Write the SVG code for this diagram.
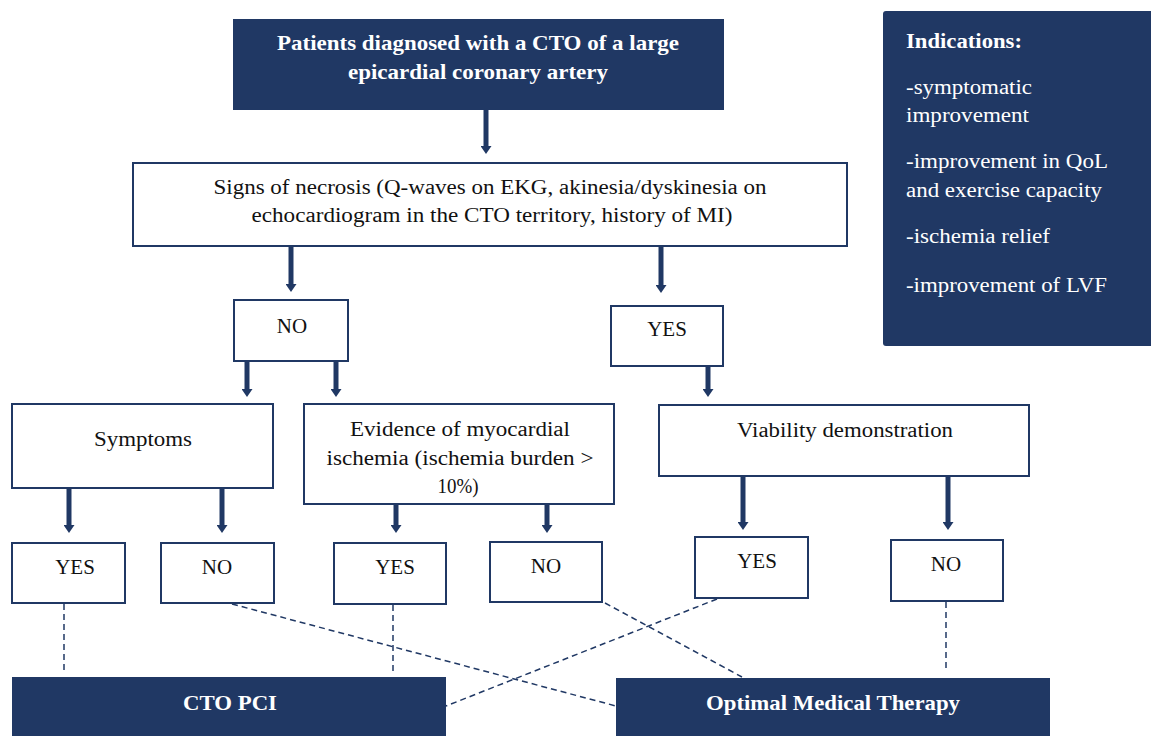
<svg xmlns="http://www.w3.org/2000/svg" width="1151" height="736" viewBox="0 0 1151 736">
<style>
.dark{fill:#203864;}
.box{fill:#fff;stroke:#203864;stroke-width:2;}
.t{font-family:'Liberation Serif','DejaVu Serif',serif;font-size:20px;fill:#111;text-anchor:middle;}
.s{font-family:'Liberation Serif','DejaVu Serif',serif;font-size:21px;fill:#111;text-anchor:middle;}
.tb{font-family:'Liberation Serif','DejaVu Serif',serif;font-size:21px;font-weight:bold;fill:#fff;text-anchor:middle;}
.ti{font-family:'Liberation Serif','DejaVu Serif',serif;font-size:20px;fill:#fff;}
.arr{stroke:#203864;stroke-width:5;fill:none;marker-end:url(#ah);}
.dash{stroke:#203864;stroke-width:1.5;fill:none;stroke-dasharray:6 4;}
</style>
<defs>
<marker id="ah" markerWidth="1.6" markerHeight="2.2" refX="0.1" refY="1.1" orient="auto" markerUnits="strokeWidth">
<path d="M0,0 L1.6,1.1 L0,2.2 Z" fill="#203864"/>
</marker>
</defs>
<rect width="1151" height="736" fill="#fff"/>
<g id="connectors">
<line class="arr" x1="486" y1="110" x2="486" y2="146.5"/>
<line class="arr" x1="291" y1="247" x2="291" y2="284.5"/>
<line class="arr" x1="661" y1="247" x2="661" y2="285.5"/>
<line class="arr" x1="247" y1="361" x2="247" y2="389.5"/>
<line class="arr" x1="336" y1="361" x2="336" y2="389.5"/>
<line class="arr" x1="708" y1="366" x2="708" y2="389.5"/>
<line class="arr" x1="69" y1="488" x2="69" y2="525.5"/>
<line class="arr" x1="222" y1="488" x2="222" y2="525.5"/>
<line class="arr" x1="396" y1="504" x2="396" y2="525.5"/>
<line class="arr" x1="547" y1="504" x2="547" y2="525.5"/>
<line class="arr" x1="743" y1="476" x2="743" y2="522.5"/>
<line class="arr" x1="948" y1="476" x2="948" y2="522.5"/>
<line class="dash" x1="64" y1="604" x2="64" y2="672"/>
<line class="dash" x1="393" y1="605" x2="393" y2="672"/>
<line class="dash" x1="946" y1="602" x2="946" y2="668"/>
<line class="dash" x1="232" y1="604" x2="616" y2="706"/>
<line class="dash" x1="605" y1="603" x2="742" y2="677"/>
<line class="dash" x1="717" y1="599" x2="446" y2="706"/>
</g>
<g id="n-start">
<rect class="dark" x="233" y="19" width="491" height="91"/>
<text class="tb" x="478" y="50" textLength="402" lengthAdjust="spacingAndGlyphs">Patients diagnosed with a CTO of a large</text>
<text class="tb" x="478" y="79" textLength="260" lengthAdjust="spacingAndGlyphs">epicardial coronary artery</text>
</g>
<g id="n-necrosis">
<rect class="box" x="133" y="163" width="714" height="83"/>
<text class="t" x="490" y="194" textLength="553" lengthAdjust="spacingAndGlyphs">Signs of necrosis (Q-waves on EKG, akinesia/dyskinesia on</text>
<text class="t" x="492" y="222" textLength="481" lengthAdjust="spacingAndGlyphs">echocardiogram in the CTO territory, history of MI)</text>
</g>
<g id="n-no">
<rect class="box" x="234" y="300" width="114" height="61"/>
<text class="s" x="292" y="333">NO</text>
</g>
<g id="n-yes">
<rect class="box" x="611" y="306" width="112" height="60"/>
<text class="s" x="667" y="336">YES</text>
</g>
<g id="n-symptoms">
<rect class="box" x="12" y="404" width="261" height="84"/>
<text class="t" x="143" y="446" textLength="98" lengthAdjust="spacingAndGlyphs">Symptoms</text>
</g>
<g id="n-evidence">
<rect class="box" x="304" y="404" width="310" height="100"/>
<text class="t" x="460" y="436" textLength="220" lengthAdjust="spacingAndGlyphs">Evidence of myocardial</text>
<text class="t" x="460" y="465" textLength="267" lengthAdjust="spacingAndGlyphs">ischemia (ischemia burden &gt;</text>
<text class="t" x="458" y="493" textLength="41" lengthAdjust="spacingAndGlyphs">10%)</text>
</g>
<g id="n-viability">
<rect class="box" x="659" y="405" width="370" height="71"/>
<text class="t" x="845" y="437" textLength="216" lengthAdjust="spacingAndGlyphs">Viability demonstration</text>
</g>
<g id="n-yes1">
<rect class="box" x="12" y="543" width="113" height="60"/>
<text class="s" x="75" y="574">YES</text>
</g>
<g id="n-no1">
<rect class="box" x="161" y="543" width="113" height="60"/>
<text class="s" x="217" y="574">NO</text>
</g>
<g id="n-yes2">
<rect class="box" x="334" y="543" width="112" height="61"/>
<text class="s" x="395" y="574">YES</text>
</g>
<g id="n-no2">
<rect class="box" x="490" y="542" width="112" height="60"/>
<text class="s" x="546" y="573">NO</text>
</g>
<g id="n-yes3">
<rect class="box" x="695" y="537" width="113" height="61"/>
<text class="s" x="757" y="568">YES</text>
</g>
<g id="n-no3">
<rect class="box" x="891" y="540" width="112" height="61"/>
<text class="s" x="946" y="571">NO</text>
</g>
<g id="n-pci">
<rect class="dark" x="12" y="677" width="434" height="59"/>
<text class="tb" x="230" y="710" textLength="94" lengthAdjust="spacingAndGlyphs">CTO PCI</text>
</g>
<g id="n-omt">
<rect class="dark" x="616" y="678" width="434" height="58"/>
<text class="tb" x="833" y="710" textLength="254" lengthAdjust="spacingAndGlyphs">Optimal Medical Therapy</text>
</g>
<g id="n-indications">
<rect class="dark" x="883" y="11" width="272" height="335" rx="3"/>
<text class="ti" x="906" y="48" font-weight="bold" textLength="116" lengthAdjust="spacingAndGlyphs">Indications:</text>
<text class="ti" x="906" y="94" textLength="126" lengthAdjust="spacingAndGlyphs">-symptomatic</text>
<text class="ti" x="906" y="122" textLength="123" lengthAdjust="spacingAndGlyphs">improvement</text>
<text class="ti" x="906" y="168" textLength="202" lengthAdjust="spacingAndGlyphs">-improvement in QoL</text>
<text class="ti" x="906" y="197" textLength="196" lengthAdjust="spacingAndGlyphs">and exercise capacity</text>
<text class="ti" x="906" y="243" textLength="144" lengthAdjust="spacingAndGlyphs">-ischemia relief</text>
<text class="ti" x="906" y="292" textLength="201" lengthAdjust="spacingAndGlyphs">-improvement of LVF</text>
</g>
</svg>
